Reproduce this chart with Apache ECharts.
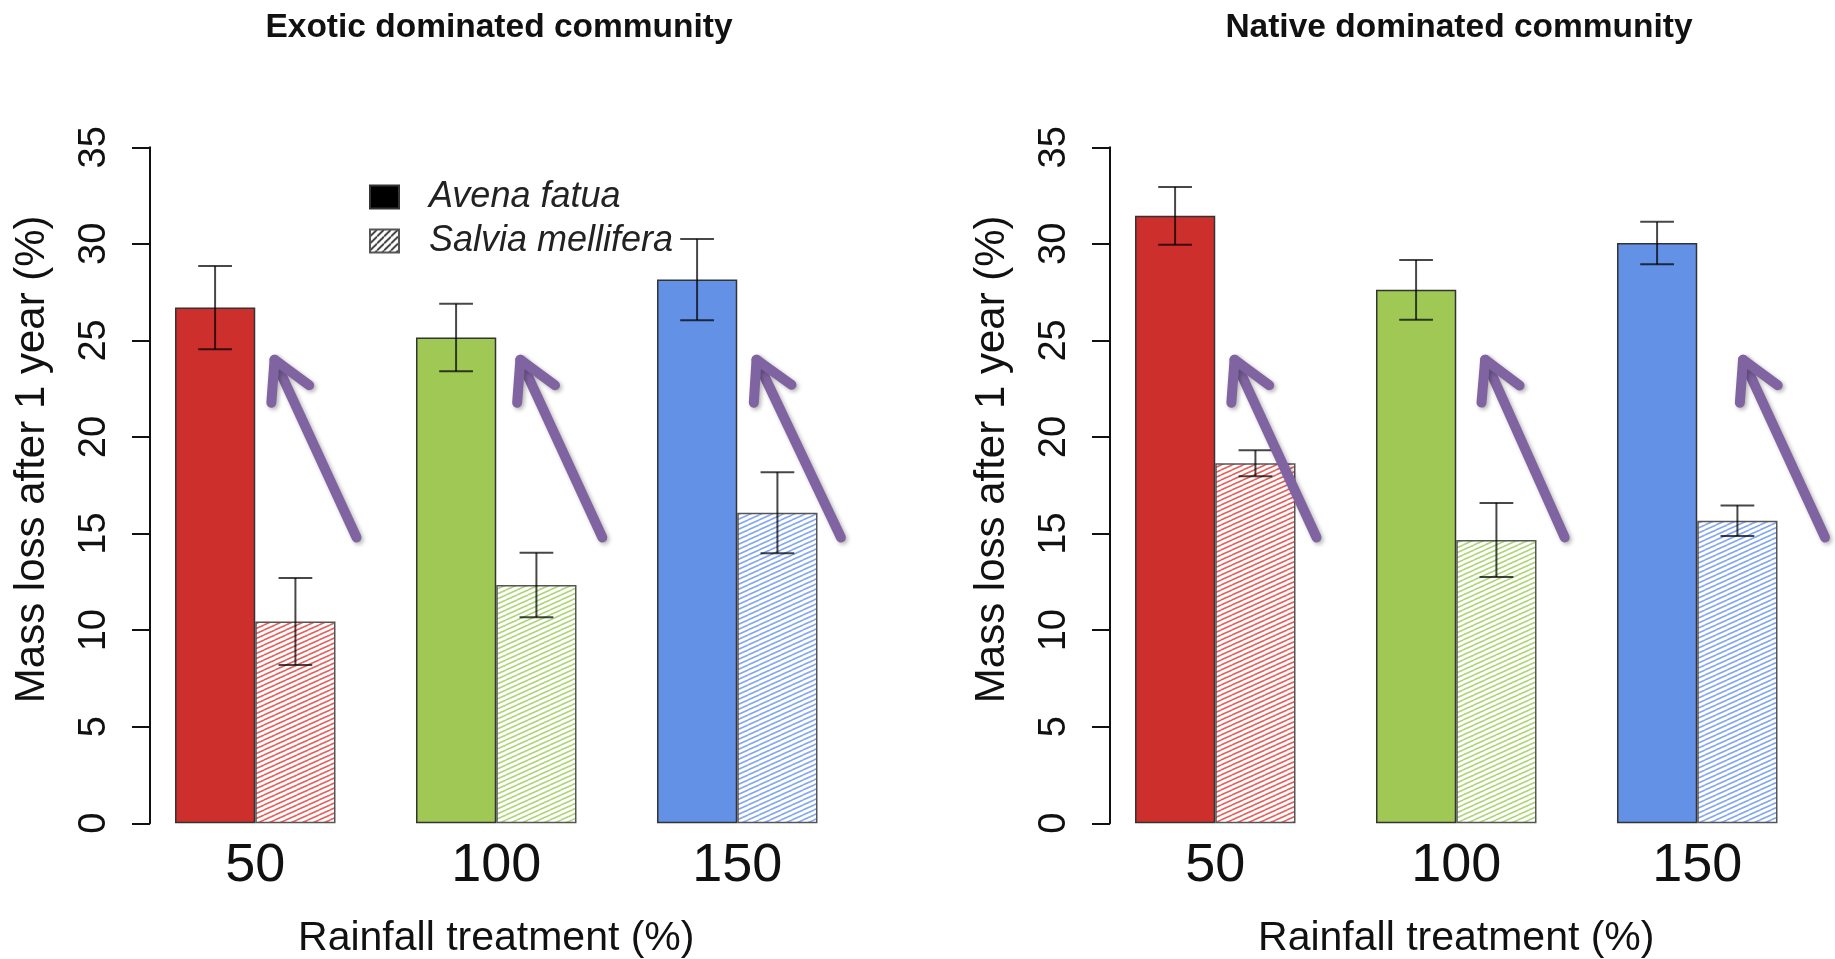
<!DOCTYPE html>
<html>
<head>
<meta charset="utf-8">
<title>Litter mass loss by rainfall treatment</title>
<script src="https://cdn.jsdelivr.net/npm/echarts@6/dist/echarts.min.js"></script>
<style>
  html, body { margin: 0; padding: 0; background: #ffffff; }
  #chart { width: 1835px; height: 959px; }
</style>
</head>
<body>
<div id="chart"></div>
<script>
// Rainfall treatments (% of ambient)
const categories = ['50', '100', '150'];

// Mean mass loss after one year (%) and standard errors
const exoticAvena = [26.7, 25.15, 28.15];
const exoticAvenaErr = [2.15, 1.75, 2.1];
const exoticSalvia = [10.45, 12.34, 16.08];
const exoticSalviaErr = [2.25, 1.67, 2.1];

const nativeAvena = [31.45, 27.62, 30.04];
const nativeAvenaErr = [1.5, 1.55, 1.1];
const nativeSalvia = [18.64, 14.67, 15.67];
const nativeSalviaErr = [0.67, 1.92, 0.79];

// Annotation arrows: [category index, tip value, tail value, tip shift, tail shift]
// (shifts are fractions of the category band, measured from the band centre)
const exoticArrows = [[0, 24.0, 14.8, 0.08, 0.42], [1, 24.0, 14.8, 0.10, 0.44], [2, 24.0, 14.8, 0.08, 0.43]];
const nativeArrows = [[0, 24.0, 14.8, 0.08, 0.42], [1, 24.0, 14.8, 0.12, 0.45], [2, 24.0, 14.8, 0.19, 0.53]];

const panelTitles = ['Exotic dominated community', 'Native dominated community'];
const speciesNames = ['Avena fatua', 'Salvia mellifera'];

const treatmentColors = ['#cc2f2c', '#9fc954', '#6291e6'];
const hatchColors = ['#e3625e', '#b1d47b', '#84a7ee'];
const FONT = '"Liberation Sans", Arial, Helvetica, sans-serif';

// Diagonal line fill used for the hatched bars
function hatchPattern(color, w, h, lw) {
  const c = document.createElement('canvas');
  c.width = w; c.height = h;
  const ctx = c.getContext('2d');
  ctx.fillStyle = '#ffffff';
  ctx.fillRect(0, 0, w, h);
  ctx.strokeStyle = color;
  ctx.lineWidth = lw;
  for (let dy = -h; dy <= h; dy += h) {
    ctx.beginPath();
    ctx.moveTo(0, h + dy);
    ctx.lineTo(w, dy);
    ctx.stroke();
  }
  return { image: c, repeat: 'repeat' };
}

const barHatches = hatchColors.map(c => hatchPattern(c, 11, 5, 1.6));
const legendHatch = hatchPattern('#222222', 7, 7, 1.6);

const chart = echarts.init(document.getElementById('chart'), null, { renderer: 'canvas' });

function xAxisFor(gridIndex) {
  return {
    type: 'category', gridIndex, data: categories,
    axisLine: { show: false }, axisTick: { show: false },
    axisLabel: { fontSize: 54, color: '#111', fontFamily: FONT, margin: 16 },
    name: 'Rainfall treatment (%)', nameLocation: 'middle', nameGap: 95,
    nameTextStyle: { fontSize: 41, color: '#111', fontFamily: FONT }
  };
}

function yAxisFor(gridIndex) {
  return {
    type: 'value', gridIndex, min: 0, max: 35, interval: 5, offset: -15.25,
    splitLine: { show: false },
    axisLine: { show: true, lineStyle: { color: '#111', width: 2 } },
    axisTick: { show: true, length: 18, lineStyle: { color: '#111', width: 2 } },
    axisLabel: { rotate: 90, fontSize: 38, color: '#111', fontFamily: FONT, margin: 36 },
    name: 'Mass loss after 1 year (%)', nameLocation: 'middle', nameRotate: 90, nameGap: 97,
    // the title sits a little above the middle of the value range
    nameTextStyle: { fontSize: 42, color: '#111', fontFamily: FONT, padding: [0, 0, 0, 52] }
  };
}

function barSeries(gridIndex, name, values, hatched) {
  return {
    name, type: 'bar', xAxisIndex: gridIndex, yAxisIndex: gridIndex,
    barGap: '0%', barCategoryGap: '33.4%',
    itemStyle: hatched
      ? { color: legendHatch, borderColor: '#555', borderWidth: 1.5 }
      : { color: '#000000', borderColor: '#333', borderWidth: 1.5 },
    data: values.map((v, i) => ({
      value: v,
      itemStyle: { color: hatched ? barHatches[i] : treatmentColors[i] }
    })),
    silent: true, z: 2
  };
}

function errorSeries(gridIndex, values, errs, side) {
  return {
    type: 'custom', name: 'se', xAxisIndex: gridIndex, yAxisIndex: gridIndex,
    silent: true, z: 5,
    data: values.map((v, i) => [i, v, errs[i]]),
    renderItem(params, api) {
      const band = api.size([1, 0])[0];
      const shift = side * band / 6;
      const hi = api.coord([api.value(0), api.value(1) + api.value(2)]);
      const lo = api.coord([api.value(0), api.value(1) - api.value(2)]);
      const x = hi[0] + shift;
      const cap = band * 0.07;
      const style = { stroke: 'rgba(0,0,0,0.72)', lineWidth: 2 };
      return {
        type: 'group', children: [
          { type: 'line', shape: { x1: x, y1: hi[1], x2: x, y2: lo[1] }, style },
          { type: 'line', shape: { x1: x - cap, y1: hi[1], x2: x + cap, y2: hi[1] }, style },
          { type: 'line', shape: { x1: x - cap, y1: lo[1], x2: x + cap, y2: lo[1] }, style }
        ]
      };
    }
  };
}

function arrowSeries(gridIndex, arrows) {
  return {
    type: 'custom', name: 'arrow', xAxisIndex: gridIndex, yAxisIndex: gridIndex,
    silent: true, z: 6, clip: false,
    data: arrows,
    renderItem(params, api) {
      const band = api.size([1, 0])[0];
      const tip = api.coord([api.value(0), api.value(1)]);
      const tail = api.coord([api.value(0), api.value(2)]);
      tip[0] += api.value(3) * band;
      tail[0] += api.value(4) * band;
      const ang = Math.atan2(tail[1] - tip[1], tail[0] - tip[0]);
      const headLen = 43, spread = 29 * Math.PI / 180;
      const a1 = [tip[0] + headLen * Math.cos(ang - spread), tip[1] + headLen * Math.sin(ang - spread)];
      const a2 = [tip[0] + headLen * Math.cos(ang + spread), tip[1] + headLen * Math.sin(ang + spread)];
      const style = {
        stroke: '#8064a2', lineWidth: 10, lineCap: 'round', lineJoin: 'round', fill: null,
        shadowColor: 'rgba(0,0,0,0.3)', shadowBlur: 4, shadowOffsetX: 2, shadowOffsetY: 2
      };
      return {
        type: 'group', children: [
          { type: 'line', shape: { x1: tail[0], y1: tail[1], x2: tip[0], y2: tip[1] }, style },
          { type: 'polyline', shape: { points: [a1, tip, a2] }, style }
        ]
      };
    }
  };
}

const option = {
  backgroundColor: '#ffffff',
  animation: false,
  title: panelTitles.map((t, i) => ({
    text: t, left: 494 + i * 960, top: 6, textAlign: 'center',
    textStyle: { fontSize: 33.5, fontWeight: 'bold', color: '#111', fontFamily: FONT }
  })),
  legend: {
    orient: 'vertical', left: 364, top: 174, icon: 'rect',
    itemWidth: 29, itemHeight: 23, itemGap: 8, selectedMode: false,
    data: speciesNames,
    textStyle: { fontSize: 36, fontStyle: 'italic', color: '#222', fontFamily: FONT, padding: [0, 0, 0, 25] }
  },
  grid: [
    { left: 134.75, top: 147.3, width: 723, height: 676, containLabel: false, outerBoundsMode: 'none' },
    { left: 1094.75, top: 147.3, width: 723, height: 676, containLabel: false, outerBoundsMode: 'none' }
  ],
  xAxis: [xAxisFor(0), xAxisFor(1)],
  yAxis: [yAxisFor(0), yAxisFor(1)],
  series: [
    barSeries(0, speciesNames[0], exoticAvena, false),
    barSeries(0, speciesNames[1], exoticSalvia, true),
    barSeries(1, speciesNames[0], nativeAvena, false),
    barSeries(1, speciesNames[1], nativeSalvia, true),
    errorSeries(0, exoticAvena, exoticAvenaErr, -1),
    errorSeries(0, exoticSalvia, exoticSalviaErr, 1),
    errorSeries(1, nativeAvena, nativeAvenaErr, -1),
    errorSeries(1, nativeSalvia, nativeSalviaErr, 1),
    arrowSeries(0, exoticArrows),
    arrowSeries(1, nativeArrows)
  ]
};

chart.setOption(option);
</script>
</body>
</html>
